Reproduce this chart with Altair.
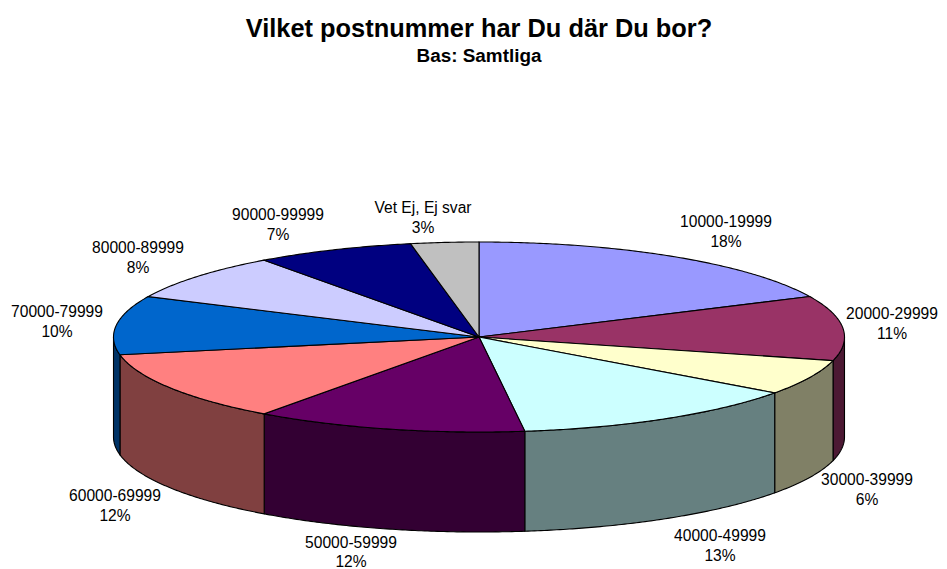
import numpy as np
import pandas as pd
import altair as alt

# --- chart values ---
categories = ["10000-19999", "20000-29999", "30000-39999", "40000-49999", "50000-59999",
              "60000-69999", "70000-79999", "80000-89999", "90000-99999", "Vet Ej, Ej svar"]
shares = [18, 11, 6, 13, 12, 12, 10, 8, 7, 3]
top_colors = ["#9999FF", "#993366", "#FFFFCC", "#CCFFFF", "#660066",
              "#FF8080", "#0066CC", "#CCCCFF", "#000080", "#C0C0C0"]
side_colors = ["#4C4C80", "#4C1933", "#808066", "#668080", "#330033",
               "#804040", "#003366", "#666680", "#000040", "#606060"]

# --- layout (page pixels) ---
CX, CY, RX, RY, DEPTH = 479, 337, 365.5, 95, 100
label_x = [726, 892, 867, 720, 351, 115, 57, 138, 278, 423]
label_y = [222, 314, 480, 536, 542.5, 496, 312, 248, 215, 208]


def rim(deg):
    t = np.radians(deg)
    return CX + RX * np.sin(t), CY - RY * np.cos(t)


rows = []


def add_poly(name, fill, xs, ys):
    for i, (x, y) in enumerate(zip(xs, ys)):
        rows.append({"poly": name, "fill": fill, "i": i, "x": float(x), "y": float(y)})


edges = np.cumsum([0] + shares) * 3.6
sides = []
tops = []
for k in range(len(shares)):
    a, b = edges[k], edges[k + 1]
    tt = np.linspace(a, b, max(int((b - a) * 2), 2))
    x, y = rim(tt)
    tops.append((f"t{k}", top_colors[k], np.r_[CX, x, CX], np.r_[CY, y, CY]))
    lo, hi = max(a, 90), min(b, 270)
    if lo < hi:
        ss = np.linspace(lo, hi, max(int((hi - lo) * 2), 2))
        sx, sy = rim(ss)
        sides.append((f"s{k}", side_colors[k],
                      np.r_[sx, sx[::-1], sx[0]],
                      np.r_[sy, sy[::-1] + DEPTH, sy[0]]))
for name, fill, xs, ys in sides + tops:
    add_poly(name, fill, xs, ys)

poly_df = pd.DataFrame(rows)
label_df = pd.DataFrame({
    "text": [f"{c}\n{s}%" for c, s in zip(categories, shares)],
    "x": label_x, "y": label_y,
})

xs = alt.Scale(domain=[8, 939], nice=False, zero=False)
ys = alt.Scale(domain=[569, 8], nice=False, zero=False)

pie = alt.Chart(poly_df).mark_line(stroke="black", strokeWidth=1.1, clip=False, interpolate="linear").encode(
    x=alt.X("x:Q", scale=xs, axis=None),
    y=alt.Y("y:Q", scale=ys, axis=None),
    fill=alt.Fill("fill:N", scale=None),
    detail="poly:N",
    order="i:Q",
)

labels = alt.Chart(label_df).mark_text(
    font="Liberation Sans", fontSize=15.6, color="black", lineBreak="\n", lineHeight=19.5,
    align="center", baseline="middle",
).encode(
    x=alt.X("x:Q", scale=xs, axis=None),
    y=alt.Y("y:Q", scale=ys, axis=None),
    text="text:N",
)

chart = alt.layer(pie, labels).properties(
    width=931, height=561,
    padding=0,
    autosize=alt.AutoSizeParams(type="none"),
    title=alt.TitleParams(
        text="Vilket postnummer har Du där Du bor?",
        subtitle="Bas: Samtliga",
        anchor="middle", frame="group", dx=5.5, dy=62,
        font="Liberation Sans", fontSize=25.4, fontWeight="bold", color="black",
        subtitleFont="Liberation Sans", subtitleFontSize=18.9, subtitleFontWeight="bold",
        subtitleColor="black", subtitlePadding=5,
    ),
).configure_view(stroke=None)

chart.save("out.html", embed_options={"renderer": "svg", "actions": False})
